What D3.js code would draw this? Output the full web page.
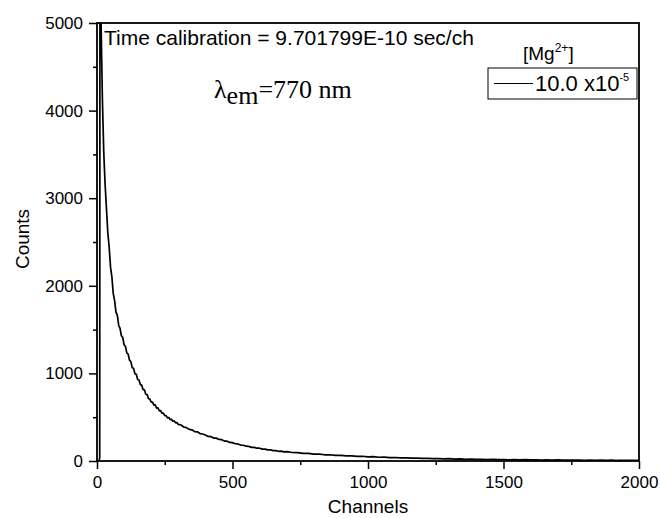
<!DOCTYPE html>
<html>
<head>
<meta charset="utf-8">
<script src="https://cdn.jsdelivr.net/npm/d3@7"></script>
<style>
  body { margin: 0; background: #fff; }
  svg { display: block; }
</style>
</head>
<body>
<div id="chart"></div>
<script>
// decay curve (channel -> counts)
var channels = [0, 4, 8, 10, 11, 12, 13, 14,
  15, 20, 25, 30, 35, 40, 45, 50, 55, 60, 65, 70, 75, 80, 85, 90, 95, 100,
  105, 110, 115, 120, 125, 130, 135, 140, 145, 150, 155, 160, 165, 170, 175, 180,
  185, 190, 195, 200, 205, 210, 215, 220, 225, 230, 235, 240, 245, 250, 255, 260,
  265, 270, 275, 280, 285, 290, 295, 300,
  310, 320, 330, 340, 350, 360, 370, 380, 390, 400, 410, 420, 430, 440, 450, 460,
  470, 480, 490, 500, 510, 520, 530, 540, 550, 560, 570, 580, 590, 600, 610, 620,
  630, 640, 650, 660, 670, 680, 690, 700,
  720, 740, 760, 780, 800, 820, 840, 860, 880, 900, 920, 940, 960, 980, 1000,
  1020, 1040, 1060, 1080, 1100, 1120, 1140, 1160, 1180, 1200, 1220, 1240, 1260,
  1280, 1300, 1320, 1340, 1360, 1380, 1400, 1420, 1440, 1460, 1480, 1500, 1520,
  1540, 1560, 1580, 1600, 1620, 1640, 1660, 1680, 1700, 1720, 1740, 1760, 1780,
  1800, 1820, 1840, 1860, 1880, 1900, 1920, 1940, 1960, 1980, 2000];

var counts = [3, 2, 4, 40, 6100, 6400, 5900, 5350,
  5000, 4120, 3520, 3150, 2880, 2600, 2440, 2210, 2100, 1910, 1830, 1700, 1665, 1550, 1515, 1430, 1410, 1325,
  1310, 1235, 1220, 1150, 1135, 1065, 1058, 995, 990, 930, 925, 872, 866, 815, 812, 762,
  758, 712, 708, 672, 673, 637, 640, 604, 607, 573, 576, 545, 546, 517, 518, 492,
  497, 473, 477, 454, 458, 436, 439, 418,
  411, 388, 381, 361, 356, 336, 333, 313, 308, 297, 281, 279, 262, 261, 246, 243,
  228, 226, 212, 210, 197, 195, 182, 180, 169, 167, 156, 156, 146, 146, 136, 136,
  127, 127, 118, 119, 111, 112, 104, 106,
  97, 95, 87, 86, 79, 78, 71, 71, 64, 65, 58, 59, 53, 54, 48,
  49, 43, 44, 39, 40, 35, 36, 32, 33, 29, 30, 27, 28,
  24, 26, 22, 24, 20, 22, 18, 20, 17, 19, 16, 17, 14,
  16, 13, 15, 12, 14, 11, 13, 10, 12, 9, 11, 9, 10,
  8, 10, 7, 9, 7, 9, 6, 8, 6, 8, 6];

var xMajor = [0, 500, 1000, 1500, 2000];
var xMinor = [250, 750, 1250, 1750];
var yMajor = [0, 1000, 2000, 3000, 4000, 5000];
var yMinor = [500, 1500, 2500, 3500, 4500];

var calibrationText = "Time calibration = 9.701799E-10 sec/ch";
var legendTitle = "[Mg", legendTitleSup = "2+";
var seriesName = "10.0 x10", seriesSup = "-5";

var sans = '"Liberation Sans", Arial, sans-serif'
  , serif = '"Liberation Serif", "Times New Roman", serif';

var width = 660
  , height = 518
  , plotLeft = 97
  , plotRight = 639
  , plotTop = 23
  , plotBottom = 461
  ;

var x = d3.scaleLinear().domain([0, 2000]).range([plotLeft, plotRight])
  , y = d3.scaleLinear().domain([0, 5000]).range([plotBottom, plotTop]);

var svg = d3.select('#chart')
  .append('svg')
    .attr('width', width)
    .attr('height', height)
    .style('font-family', sans);

svg.append('clipPath')
    .attr('id', 'plot-clip')
  .append('rect')
    .attr('x', plotLeft)
    .attr('y', plotTop)
    .attr('width', plotRight - plotLeft)
    .attr('height', plotBottom - plotTop);

// data
var data = channels.map((c, i) => ({ ch: c, n: counts[i] }));
svg.append('path')
  .datum(data)
  .attr('clip-path', 'url(#plot-clip)')
  .attr('fill', 'none')
  .attr('stroke', '#000')
  .attr('stroke-width', 1.7)
  .attr('stroke-linejoin', 'bevel')
  .attr('d', d3.line().x(d => x(d.ch)).y(d => y(d.n)));

// axes
function styleAxis(g) {
  g.select('.domain').remove();
  g.selectAll('line').attr('stroke', '#000').attr('stroke-width', 1.5);
  g.selectAll('text').style('font-size', '17px').style('font-family', sans).attr('fill', '#000');
}

svg.append('g')
  .attr('transform', `translate(0,${plotBottom})`)
  .call(d3.axisBottom(x).tickValues(xMajor).tickSize(8).tickPadding(7).tickFormat(d3.format('d')))
  .call(styleAxis);
svg.append('g')
  .attr('transform', `translate(0,${plotBottom})`)
  .call(d3.axisBottom(x).tickValues(xMinor).tickSize(4).tickFormat(''))
  .call(styleAxis);
svg.append('g')
  .attr('transform', `translate(${plotLeft},0)`)
  .call(d3.axisLeft(y).tickValues(yMajor).tickSize(8).tickPadding(6).tickFormat(d3.format('d')))
  .call(styleAxis);
svg.append('g')
  .attr('transform', `translate(${plotLeft},0)`)
  .call(d3.axisLeft(y).tickValues(yMinor).tickSize(4).tickFormat(''))
  .call(styleAxis);

// frame
svg.append('rect')
  .attr('x', plotLeft)
  .attr('y', plotTop)
  .attr('width', plotRight - plotLeft)
  .attr('height', plotBottom - plotTop)
  .attr('fill', 'none')
  .attr('stroke', '#000')
  .attr('stroke-width', 1.8);

// axis titles
svg.append('text')
  .attr('x', (plotLeft + plotRight) / 2)
  .attr('y', 513)
  .attr('text-anchor', 'middle')
  .style('font-size', '19px')
  .text('Channels');
svg.append('text')
  .attr('transform', 'translate(29,239) rotate(-90)')
  .attr('text-anchor', 'middle')
  .style('font-size', '19px')
  .text('Counts');

// annotations
svg.append('text')
  .attr('x', 104)
  .attr('y', 45)
  .style('font-size', '21px')
  .text(calibrationText);

var lam = svg.append('text')
  .attr('x', 214)
  .attr('y', 98)
  .style('font-family', serif)
  .style('font-size', '26px');
lam.append('tspan').text('λ');
lam.append('tspan').attr('dy', 6).text('em');
lam.append('tspan').attr('dy', -6).text('=770 nm');

// legend
var lt = svg.append('text')
  .attr('x', 523)
  .attr('y', 60)
  .style('font-size', '19px');
lt.append('tspan').text(legendTitle);
lt.append('tspan').attr('dy', -8).style('font-size', '12px').text(legendTitleSup);
lt.append('tspan').attr('dy', 8).text(']');

svg.append('rect')
  .attr('x', 488)
  .attr('y', 68)
  .attr('width', 149)
  .attr('height', 31)
  .attr('fill', 'none')
  .attr('stroke', '#000')
  .attr('stroke-width', 1);
svg.append('line')
  .attr('x1', 494).attr('x2', 533)
  .attr('y1', 83.5).attr('y2', 83.5)
  .attr('stroke', '#000')
  .attr('stroke-width', 1);
var st = svg.append('text')
  .attr('x', 535)
  .attr('y', 91)
  .style('font-size', '22px');
st.append('tspan').text(seriesName);
st.append('tspan').attr('dy', -10).style('font-size', '11px').text(seriesSup);
</script>
</body>
</html>
